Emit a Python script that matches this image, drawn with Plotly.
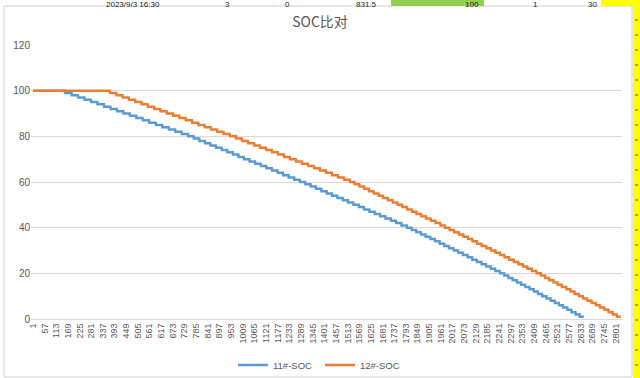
import plotly.graph_objects as go

# ---- data ----
title_text = "SOC比对"
series_names = ["11#-SOC", "12#-SOC"]
soc_levels = list(range(100, 0, -1))  # SOC level 100 .. 1

# number of samples spent at each SOC level (100 -> 1)
blue_durations = [154,
    32, 31, 31, 31, 31, 32, 31, 31, 31, 31, 31, 31, 31, 32, 31, 31, 31, 31, 31,
    27, 27, 27, 26, 27, 27, 27, 27, 27, 26, 27, 27, 27, 27, 27, 27, 26, 27, 27, 27,
    26, 26, 25, 26, 26, 25, 26, 26, 25, 26, 26, 25, 26, 26, 25, 26, 26, 25, 26, 26,
    23, 22, 23, 22, 23, 22, 23, 22, 22, 23, 22, 22, 23, 22, 22, 23, 22, 22, 22, 22,
    21, 20, 20, 21, 20, 20, 21, 20, 20, 20, 21, 20, 20, 20, 20, 20, 20, 20, 20, 20]
orange_durations = [370,
    31, 30, 30, 31, 30, 30, 31, 30, 30, 31, 30, 30, 31, 30, 30, 31, 30, 30, 31,
    29, 29, 29, 29, 28, 29, 29, 29, 29, 28, 29, 29, 29, 29, 28, 29, 29, 29, 29, 28,
    23, 23, 23, 23, 23, 23, 22, 23, 23, 23, 23, 23, 23, 22, 23, 23, 23, 23, 23, 22,
    22, 22, 23, 22, 22, 21, 22, 22, 23, 22, 22, 21, 22, 22, 23, 22, 22, 21, 22, 22,
    21, 20, 20, 21, 20, 20, 21, 20, 20, 21, 20, 20, 21, 20, 20, 21, 20, 20, 20, 20]

x_tick_labels = list(range(1, 2802, 56))
y_tick_values = [0, 20, 40, 60, 80, 100, 120]

# spreadsheet row partially visible above the chart
sheet_texts = [("2023/9/3 16:30", 133), ("3", 227), ("0", 287), ("831.5", 366),
               ("100", 472), ("1", 535), ("30", 592)]


def expand(levels, durations):
    vals = []
    for lv, d in zip(levels, durations):
        vals.extend([lv] * d)
    return vals


blue_soc = expand(soc_levels, blue_durations)
orange_soc = expand(soc_levels, orange_durations)

W, H = 640, 378
L, R, T, B = 31, 18, 45, 59
PW, PH = W - L - R, H - T - B


def px(x):
    return (x - L) / PW


def py(y):
    return (H - B - y) / PH


fig = go.Figure()
fig.add_trace(go.Scatter(x=list(range(1, len(blue_soc) + 1)), y=blue_soc,
                         mode="lines", name=series_names[0],
                         line=dict(color="#5B9BD5", width=2.5)))
fig.add_trace(go.Scatter(x=list(range(1, len(orange_soc) + 1)), y=orange_soc,
                         mode="lines", name=series_names[1],
                         line=dict(color="#ED7D31", width=2.5)))

shapes = [
    # chart area border
    dict(type="rect", xref="paper", yref="paper", x0=px(4), x1=px(632), y0=py(377), y1=py(6),
         line=dict(color="#d0d0d0", width=1), fillcolor="rgba(0,0,0,0)", layer="below"),
    # green cell and yellow cells of the sheet
    dict(type="rect", xref="paper", yref="paper", x0=px(391), x1=px(484), y0=py(6), y1=py(0),
         line=dict(width=0), fillcolor="#92D050"),
    dict(type="rect", xref="paper", yref="paper", x0=px(601), x1=px(640), y0=py(6), y1=py(0),
         line=dict(width=0), fillcolor="#FFFF00"),
    dict(type="rect", xref="paper", yref="paper", x0=px(633), x1=px(640), y0=py(378), y1=py(0),
         line=dict(width=0), fillcolor="#FFFF00"),
]
for yy in range(20, 378, 15):
    shapes.append(dict(type="line", xref="paper", yref="paper", x0=px(635), x1=px(638),
                       y0=py(yy), y1=py(yy), line=dict(color="#555555", width=1)))

annotations = []
for txt, xc in sheet_texts:
    annotations.append(dict(text=txt, xref="paper", yref="paper", x=px(xc), y=py(4),
                            xanchor="center", yanchor="middle", showarrow=False,
                            font=dict(family="Liberation Sans", size=8, color="#222222")))

fig.update_layout(
    width=W, height=H,
    margin=dict(l=L, r=R, t=T, b=B, autoexpand=False),
    paper_bgcolor="white", plot_bgcolor="white",
    title=dict(text=title_text, x=0.5, xref="container", xanchor="center",
               y=1 - 22 / H, yref="container", yanchor="middle",
               font=dict(family="Noto Sans CJK SC", size=14, color="#595959")),
    showlegend=True,
    legend=dict(orientation="h", x=0.5, xref="container", xanchor="center",
                y=13 / H, yref="container", yanchor="middle",
                font=dict(family="Liberation Sans", size=9.5, color="#595959"),
                itemwidth=30, entrywidth=42, entrywidthmode="pixels",
                tracegroupgap=0, bgcolor="rgba(0,0,0,0)"),
    shapes=shapes,
    annotations=annotations,
)
fig.update_xaxes(range=[-8.6, 2831.4], tickmode="array", tickvals=x_tick_labels,
                 ticktext=[str(v) for v in x_tick_labels], tickangle=-90,
                 tickfont=dict(family="Liberation Sans", size=9, color="#595959"),
                 showgrid=False, showline=True, linecolor="#d9d9d9", linewidth=1,
                 zeroline=False, ticks="")
fig.update_yaxes(range=[0, 120], tickmode="array", tickvals=y_tick_values,
                 tickfont=dict(family="Liberation Sans", size=10, color="#595959"),
                 showgrid=True, gridcolor="#d9d9d9", gridwidth=1,
                 zeroline=False, showline=False, ticks="")

fig.write_html("out.html", config={"displayModeBar": False},
               post_script="document.body.style.margin='0';document.body.style.overflow='hidden';")
